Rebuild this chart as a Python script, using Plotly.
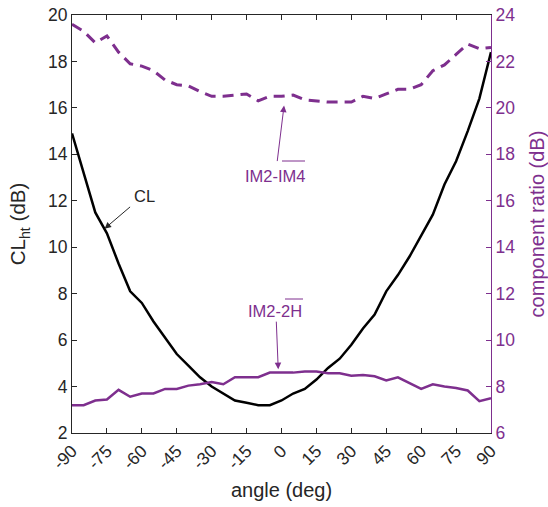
import plotly.graph_objects as go

angles = list(range(-90, 91, 5))
tick_vals = list(range(-90, 91, 15))
cl_ht = [14.9, 13.2, 11.5, 10.6, 9.3, 8.1, 7.6, 6.8, 6.1, 5.4, 4.9, 4.4, 4.0, 3.7,
         3.4, 3.3, 3.2, 3.2, 3.4, 3.7, 3.9, 4.3, 4.8, 5.2, 5.8, 6.5, 7.1, 8.1, 8.8,
         9.6, 10.5, 11.4, 12.7, 13.7, 15.0, 16.4, 18.4]
im2_im4 = [23.6, 23.3, 22.8, 23.1, 22.4, 21.9, 21.8, 21.6, 21.2, 21.0, 20.95, 20.7,
           20.5, 20.5, 20.55, 20.6, 20.3, 20.5, 20.5, 20.55, 20.35, 20.3, 20.25,
           20.25, 20.25, 20.5, 20.4, 20.6, 20.8, 20.8, 21.0, 21.6, 21.85, 22.3,
           22.75, 22.55, 22.6]
im2_2h = [7.2, 7.2, 7.4, 7.44, 7.86, 7.56, 7.7, 7.7, 7.9, 7.9, 8.04, 8.1, 8.2, 8.1,
          8.4, 8.4, 8.4, 8.6, 8.6, 8.6, 8.65, 8.65, 8.57, 8.57, 8.47, 8.5, 8.44,
          8.26, 8.4, 8.14, 7.9, 8.1, 8.0, 7.94, 7.83, 7.37, 7.5]

PURPLE = "#7E2F8E"
DARK = "#262626"
FONT = "Liberation Sans, Arial, Helvetica, sans-serif"

fig = go.Figure()
fig.add_trace(go.Scatter(x=angles, y=cl_ht, mode="lines",
                         line=dict(color="black", width=2.5), yaxis="y"))
fig.add_trace(go.Scatter(x=angles, y=im2_im4, mode="lines",
                         line=dict(color=PURPLE, width=3, dash="11px,7px"), yaxis="y2"))
fig.add_trace(go.Scatter(x=angles, y=im2_2h, mode="lines",
                         line=dict(color=PURPLE, width=2.5), yaxis="y2"))

L, R, T, B = 72, 57, 15, 74
W, H = 548, 507
pw, ph = W - L - R, H - T - B


def px(x):
    return (x - L) / pw


def py(y):
    return (H - B - y) / ph


annotations = [
    # arrows (text-less) pointing to curves
    dict(x=-76, y=10.8, xref="x", yref="y", text="", showarrow=True,
         ax=27, ay=-23, arrowhead=2, arrowsize=1.3, arrowwidth=1, arrowcolor=DARK),
    dict(x=1.1, y=20.1, xref="x", yref="y2", text="", showarrow=True,
         ax=-7, ay=57, arrowhead=2, arrowsize=1.3, arrowwidth=1, arrowcolor=PURPLE),
    dict(x=-1.4, y=8.75, xref="x", yref="y2", text="", showarrow=True,
         ax=-2, ay=-49, arrowhead=2, arrowsize=1.3, arrowwidth=1, arrowcolor=PURPLE),
    # labels
    dict(x=px(144), y=py(196), xref="paper", yref="paper", text="CL", showarrow=False,
         xanchor="center", yanchor="middle",
         font=dict(color=DARK, size=16.5, family=FONT)),
    dict(x=px(275), y=py(176), xref="paper", yref="paper", text="IM2-IM4", showarrow=False,
         xanchor="center", yanchor="middle",
         font=dict(color=PURPLE, size=16.5, family=FONT)),
    dict(x=px(275), y=py(311), xref="paper", yref="paper", text="IM2-2H", showarrow=False,
         xanchor="center", yanchor="middle",
         font=dict(color=PURPLE, size=16.5, family=FONT)),
]

shapes = [
    dict(type="line", xref="paper", yref="paper", x0=px(282), x1=px(305),
         y0=py(161), y1=py(161), line=dict(color=PURPLE, width=1)),
    dict(type="line", xref="paper", yref="paper", x0=px(285), x1=px(303),
         y0=py(299), y1=py(299), line=dict(color=PURPLE, width=1)),
]

fig.update_layout(
    width=W, height=H,
    margin=dict(l=L, r=R, t=T, b=B, autoexpand=False),
    plot_bgcolor="white", paper_bgcolor="white",
    showlegend=False,
    font=dict(family=FONT, color=DARK, size=17.5),
    xaxis=dict(range=[-90, 90], tickvals=tick_vals, ticktext=[str(v) for v in tick_vals],
               tickangle=-45, ticks="inside", ticklen=5, tickcolor=DARK,
               showline=True, linecolor=DARK, linewidth=1, mirror="ticks",
               showgrid=False, zeroline=False, automargin=False,
               title=dict(text="angle (deg)", font=dict(size=20), standoff=10)),
    yaxis=dict(range=[2, 20], dtick=2, ticks="inside", ticklen=5, tickcolor=DARK,
               showline=True, linecolor=DARK, linewidth=1, showgrid=False, zeroline=False,
               automargin=False,
               title=dict(text="CL<sub>ht</sub> (dB)", font=dict(size=20.5), standoff=16)),
    yaxis2=dict(range=[6, 24], dtick=2, overlaying="y", side="right",
                ticks="inside", ticklen=5, tickcolor=PURPLE,
                showline=True, linecolor=PURPLE, linewidth=1, showgrid=False, zeroline=False,
                tickfont=dict(color=PURPLE), automargin=False,
                title=dict(text="component ratio (dB)", font=dict(size=20, color=PURPLE),
                           standoff=18)),
    annotations=annotations,
    shapes=shapes,
)

fig.write_html("out.html")
